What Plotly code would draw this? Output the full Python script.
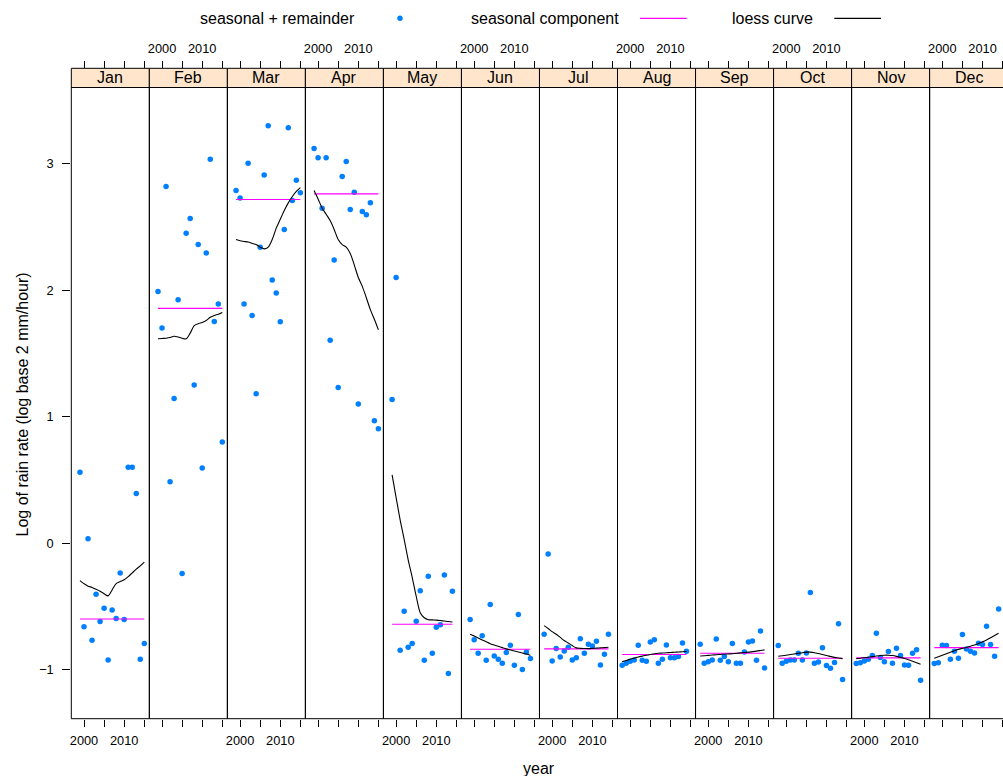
import plotly.graph_objects as go

# ---- data: monthly cycle-subseries of log2 rain rate ----
months = ["Jan", "Feb", "Mar", "Apr", "May", "Jun",
          "Jul", "Aug", "Sep", "Oct", "Nov", "Dec"]
first_year = [1999, 1999, 1999, 1999, 1999, 1999,
              1998, 1998, 1998, 1998, 1998, 1998]

# seasonal + remainder, one value per year
sr_jan = [0.56, -0.662, 0.034, -0.767, -0.404, -0.62, -0.515, -0.923, -0.528,
          -0.596, -0.237, -0.604, 0.60, 0.60, 0.392, -0.918, -0.794]
sr_feb = [1.99, 1.70, 2.82, 0.485, 1.144, 1.925, -0.24, 2.45, 2.566,
          1.25, 2.36, 0.593, 2.294, 3.035, 1.753, 1.89, 0.80]
sr_mar = [2.787, 2.729, 1.891, 3.003, 1.80, 1.181, 2.339, 2.911, 3.299,
          2.08, 1.978, 1.751, 2.479, 3.283, 2.708, 2.869, 2.769]
sr_apr = [3.119, 3.046, 2.647, 3.046, 1.603, 2.239, 1.231, 2.898, 3.017,
          2.637, 2.774, 1.10, 2.621, 2.597, 2.69, 0.968, 0.904]
sr_may = [1.136, 2.10, -0.847, -0.538, -0.823, -0.794, -0.617, -0.377,
          -0.926, -0.261, -0.87, -0.665, -0.646, -0.251, -1.031, -0.38]
sr_jun = [-0.604, -0.763, -0.87, -0.733, -0.926, -0.486, -0.892, -0.918,
          -0.95, -0.865, -0.807, -0.965, -0.565, -1.0, -0.86, -0.913]
sr_jul = [-0.72, -0.085, -0.931, -0.834, -0.90, -0.852, -0.823, -0.923, -0.907,
          -0.755, -0.87, -0.799, -0.813, -0.776, -0.963, -0.878, -0.72]
sr_aug = [-0.965, -0.95, -0.934, -0.923, -0.807, -0.926, -0.934, -0.781, -0.763,
          -0.95, -0.918, -0.805, -0.907, -0.907, -0.897, -0.789, -0.855]
sr_sep = [-0.799, -0.95, -0.937, -0.923, -0.757, -0.926, -0.897, -0.937, -0.794,
          -0.95, -0.95, -0.86, -0.781, -0.773, -0.926, -0.694, -0.987]
sr_oct = [-0.81, -0.95, -0.934, -0.923, -0.923, -0.87, -0.923, -0.868, -0.391,
          -0.95, -0.939, -0.828, -0.968, -0.989, -0.944, -0.638, -1.079]
sr_nov = [-0.952, -0.945, -0.931, -0.918, -0.889, -0.712, -0.905, -0.937, -0.857,
          -0.95, -0.831, -0.889, -0.963, -0.966, -0.87, -0.842, -1.084]
sr_dec = [-0.952, -0.945, -0.807, -0.81, -0.918, -0.855, -0.91, -0.723, -0.836,
          -0.855, -0.868, -0.791, -0.802, -0.657, -0.802, -0.894, -0.52]

# seasonal component (constant within each month)
seasonal = [-0.60, 1.856, 2.716, 2.761, -0.641, -0.839,
            -0.836, -0.881, -0.87, -0.91, -0.907, -0.826]

# loess fit of each cycle-subseries
lo_jan = [-0.296, -0.32, -0.34, -0.35, -0.364, -0.38, -0.40, -0.417, -0.37,
          -0.32, -0.304, -0.29, -0.265, -0.235, -0.205, -0.18, -0.15]
lo_feb = [1.616, 1.618, 1.62, 1.625, 1.635, 1.63, 1.62, 1.615, 1.66,
          1.72, 1.735, 1.745, 1.76, 1.785, 1.80, 1.81, 1.824]
lo_mar = [2.40, 2.39, 2.385, 2.38, 2.37, 2.36, 2.34, 2.326, 2.34,
          2.40, 2.49, 2.56, 2.63, 2.69, 2.74, 2.78, 2.81]
lo_apr = [2.787, 2.72, 2.65, 2.60, 2.55, 2.48, 2.40, 2.36, 2.34,
          2.29, 2.20, 2.10, 2.03, 1.94, 1.846, 1.77, 1.687]
lo_may = [0.54, 0.36, 0.184, 0.03, -0.132, -0.27, -0.42, -0.55,
          -0.59, -0.605, -0.607, -0.609, -0.612, -0.616, -0.62, -0.623]
lo_jun = [-0.72, -0.735, -0.75, -0.765, -0.78, -0.795, -0.806, -0.816,
          -0.826, -0.836, -0.845, -0.853, -0.861, -0.869, -0.877, -0.886]
lo_jul = [-0.652, -0.675, -0.70, -0.72, -0.745, -0.77, -0.79, -0.81, -0.828,
          -0.832, -0.833, -0.834, -0.832, -0.83, -0.828, -0.826, -0.823]
lo_aug = [-0.937, -0.928, -0.918, -0.909, -0.90, -0.893, -0.887, -0.881, -0.875,
          -0.871, -0.869, -0.867, -0.865, -0.863, -0.861, -0.859, -0.857]
lo_sep = [-0.892, -0.890, -0.887, -0.885, -0.882, -0.880, -0.878, -0.876, -0.874,
          -0.871, -0.868, -0.865, -0.862, -0.858, -0.854, -0.849, -0.844]
lo_oct = [-0.894, -0.89, -0.886, -0.881, -0.876, -0.871, -0.866, -0.862, -0.862,
          -0.866, -0.873, -0.881, -0.889, -0.896, -0.903, -0.908, -0.913]
lo_nov = [-0.913, -0.91, -0.906, -0.902, -0.897, -0.892, -0.888, -0.886, -0.886,
          -0.889, -0.895, -0.903, -0.912, -0.922, -0.933, -0.945, -0.957]
lo_dec = [-0.91, -0.898, -0.886, -0.874, -0.862, -0.85, -0.84, -0.832, -0.825,
          -0.815, -0.805, -0.793, -0.78, -0.765, -0.748, -0.73, -0.712]

sr_all = [sr_jan, sr_feb, sr_mar, sr_apr, sr_may, sr_jun,
          sr_jul, sr_aug, sr_sep, sr_oct, sr_nov, sr_dec]
lo_all = [lo_jan, lo_feb, lo_mar, lo_apr, lo_may, lo_jun,
          lo_jul, lo_aug, lo_sep, lo_oct, lo_nov, lo_dec]

year_ticks = [2000, 2005, 2010, 2015]
year_labels = ["2000", "", "2010", ""]
y_ticks = [-1, 0, 1, 2, 3]

# ---- page geometry (pixels) ----
W, H = 1003, 776
left0, pw = 71.3, 78.03
plot_top, plot_bot, strip_top = 87.5, 718.7, 68.3
x_lo, ppy = 1996.84, 4.02
y_range = [-1.388, 3.602]

FONT = "Liberation Sans, Arial, Helvetica, sans-serif"
PT_COL = "#0080FF"
SEAS_COL = "#FF00FF"


def fx(px):
    return px / W


def fy(py):
    return 1 - py / H


fig = go.Figure()
layout = dict(
    width=W, height=H, autosize=False,
    margin=dict(l=0, r=0, t=0, b=0),
    paper_bgcolor="white", plot_bgcolor="white",
    showlegend=False,
    font=dict(family=FONT, color="black"),
)

shapes, annotations = [], []
ydom = [fy(plot_bot), fy(plot_top)]

for i, m in enumerate(months):
    left = left0 + i * pw
    right = min(left + pw, W)
    x_hi = x_lo + (right - left) / ppy
    dom = [fx(left), fx(right)]
    xa = "x" if i == 0 else f"x{i + 1}"
    xt = f"x{i + 13}"
    bottom_labels = (i % 2 == 0)

    layout["xaxis" if i == 0 else f"xaxis{i + 1}"] = dict(
        domain=dom, range=[x_lo, x_hi], anchor="y",
        tickvals=year_ticks,
        ticktext=year_labels if bottom_labels else [""] * 4,
        ticks="outside", ticklen=7, tickwidth=1, tickcolor="black",
        ticklabelstandoff=3,
        tickfont=dict(size=12.8, family=FONT, color="black"),
        showgrid=False, zeroline=False, showline=False, automargin=False,
    )
    layout[f"xaxis{i + 13}"] = dict(
        domain=dom, range=[x_lo, x_hi], anchor="free",
        position=fy(strip_top), overlaying=xa, side="top",
        tickvals=year_ticks,
        ticktext=[""] * 4 if bottom_labels else year_labels,
        ticks="outside", ticklen=7, tickwidth=1, tickcolor="black",
        ticklabelstandoff=3,
        tickfont=dict(size=12.8, family=FONT, color="black"),
        showgrid=False, zeroline=False, showline=False, automargin=False,
    )

    yrs = list(range(first_year[i], first_year[i] + len(sr_all[i])))
    fig.add_trace(go.Scatter(
        x=yrs, y=sr_all[i], mode="markers", xaxis=xa, yaxis="y",
        marker=dict(color=PT_COL, size=5.5, line=dict(width=0)),
        hoverinfo="skip", cliponaxis=True))
    fig.add_trace(go.Scatter(
        x=[yrs[0], yrs[-1]], y=[seasonal[i], seasonal[i]], mode="lines",
        xaxis=xa, yaxis="y", line=dict(color=SEAS_COL, width=1.1),
        hoverinfo="skip"))
    fig.add_trace(go.Scatter(
        x=yrs, y=lo_all[i], mode="lines", xaxis=xa, yaxis="y",
        line=dict(color="black", width=1.1, shape="spline", smoothing=0.8),
        hoverinfo="skip"))
    # carrier trace so the top axis is drawn
    fig.add_trace(go.Scatter(x=[None], y=[None], xaxis=xt, yaxis="y",
                             hoverinfo="skip"))

    # strip and panel frame
    shapes.append(dict(type="rect", xref="paper", yref="paper",
                       x0=fx(left), x1=fx(left + pw), y0=fy(plot_top), y1=fy(strip_top),
                       fillcolor="#FFE5CC", line=dict(color="black", width=1),
                       layer="above"))
    shapes.append(dict(type="rect", xref="paper", yref="paper",
                       x0=fx(left), x1=fx(left + pw), y0=fy(plot_bot), y1=fy(plot_top),
                       line=dict(color="black", width=1), layer="above"))
    annotations.append(dict(text=m, xref="paper", yref="paper",
                            x=fx(left + pw / 2), y=fy((plot_top + strip_top) / 2),
                            xanchor="center", yanchor="middle", showarrow=False,
                            font=dict(size=16, family=FONT, color="black")))

layout["yaxis"] = dict(
    domain=ydom, range=y_range, anchor="x",
    tickvals=y_ticks, ticktext=["\u22121", "0", "1", "2", "3"],
    ticks="outside", ticklen=8, tickwidth=1, tickcolor="black",
    ticklabelstandoff=6,
    tickfont=dict(size=12.8, family=FONT, color="black"),
    showgrid=False, zeroline=False, showline=False, automargin=False,
)

# axis titles
annotations.append(dict(text="Log of rain rate (log base 2 mm/hour)",
                        xref="paper", yref="paper", x=fx(21.5), y=fy(405),
                        xanchor="center", yanchor="middle", textangle=-90,
                        showarrow=False, font=dict(size=16, family=FONT)))
annotations.append(dict(text="year", xref="paper", yref="paper",
                        x=fx(539.3), y=fy(768), xanchor="center", yanchor="middle",
                        showarrow=False, font=dict(size=16, family=FONT)))

# key across the top
key_y = 18.3
annotations.append(dict(text="seasonal + remainder", xref="paper", yref="paper",
                        x=fx(356.7), y=fy(key_y), xanchor="right", yanchor="middle",
                        showarrow=False, font=dict(size=16, family=FONT)))
shapes.append(dict(type="circle", xref="paper", yref="paper",
                   x0=fx(397.3), x1=fx(402.7), y0=fy(key_y + 2.7), y1=fy(key_y - 2.7),
                   fillcolor=PT_COL, line=dict(width=0)))
annotations.append(dict(text="seasonal component", xref="paper", yref="paper",
                        x=fx(620.7), y=fy(key_y), xanchor="right", yanchor="middle",
                        showarrow=False, font=dict(size=16, family=FONT)))
shapes.append(dict(type="line", xref="paper", yref="paper",
                   x0=fx(640), x1=fx(686.7), y0=fy(key_y), y1=fy(key_y),
                   line=dict(color=SEAS_COL, width=1.2)))
annotations.append(dict(text="loess curve", xref="paper", yref="paper",
                        x=fx(815), y=fy(key_y), xanchor="right", yanchor="middle",
                        showarrow=False, font=dict(size=16, family=FONT)))
shapes.append(dict(type="line", xref="paper", yref="paper",
                   x0=fx(834.3), x1=fx(881), y0=fy(key_y), y1=fy(key_y),
                   line=dict(color="black", width=1.2)))

layout["shapes"] = shapes
layout["annotations"] = annotations
fig.update_layout(**layout)
fig.write_html("out.html")
